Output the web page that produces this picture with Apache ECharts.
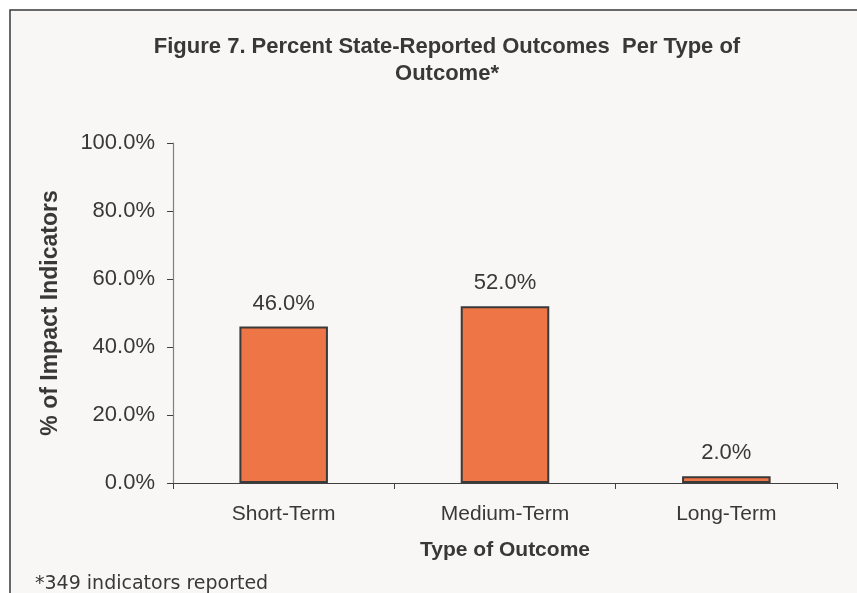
<!DOCTYPE html>
<html>
<head>
<meta charset="utf-8">
<script src="https://cdn.jsdelivr.net/npm/echarts@6/dist/echarts.min.js"></script>
<style>
  html, body { margin: 0; padding: 0; background: #ffffff; }
  #chart { width: 857px; height: 593px; }
</style>
</head>
<body>
<div id="chart"></div>
<script>
// Outcome categories and their share of impact indicators (percent)
const categories = ['Short-Term', 'Medium-Term', 'Long-Term'];
const shares = [46.0, 52.0, 2.0];
const yTicks = [0, 20, 40, 60, 80, 100];

const FONT = '"Liberation Sans", Arial, sans-serif';
const INK = '#383838';

const chart = echarts.init(document.getElementById('chart'), null, { renderer: 'canvas' });

chart.setOption({
  backgroundColor: '#ffffff',
  animation: false,
  graphic: [
    {
      type: 'rect',
      z: -10,
      shape: { x: 10, y: 10, width: 900, height: 700 },
      style: { fill: '#f8f7f5', stroke: '#3a3a3a', lineWidth: 1.5 }
    },
    {
      type: 'text',
      left: 35,
      top: 575,
      style: {
        text: '*349 indicators reported',
        font: '19px "DejaVu Sans", Verdana, sans-serif',
        fill: INK
      }
    }
  ],
  title: {
    text: 'Figure 7. Percent State-Reported Outcomes  Per Type of\nOutcome*',
    left: 442,
    top: 28,
    textAlign: 'center',
    textStyle: {
      fontFamily: FONT,
      fontSize: 22,
      fontWeight: 'bold',
      color: INK,
      lineHeight: 27
    }
  },
  grid: { left: 173, top: 143, right: 20, bottom: 110, containLabel: false },
  xAxis: {
    type: 'category',
    data: categories,
    name: 'Type of Outcome',
    nameLocation: 'middle',
    nameGap: 57,
    nameTextStyle: { fontFamily: FONT, fontSize: 21, fontWeight: 'bold', color: INK, verticalAlign: 'top' },
    axisLine: { lineStyle: { color: '#404040', width: 1.2 } },
    axisTick: { show: true, length: 6, alignWithLabel: false, lineStyle: { color: '#404040' } },
    axisLabel: { fontFamily: FONT, fontSize: 21, color: INK, margin: 21 },
    splitLine: { show: false }
  },
  yAxis: {
    type: 'value',
    min: yTicks[0],
    max: yTicks[yTicks.length - 1],
    interval: yTicks[1] - yTicks[0],
    name: '% of Impact Indicators',
    nameLocation: 'middle',
    nameGap: 111,
    nameRotate: 90,
    nameTextStyle: { fontFamily: FONT, fontSize: 23, fontWeight: 'bold', color: INK },
    axisLine: { show: true, lineStyle: { color: '#808080', width: 1.2 } },
    axisTick: { show: true, length: 6, lineStyle: { color: '#404040' } },
    axisLabel: {
      fontFamily: FONT,
      fontSize: 22,
      color: INK,
      margin: 18,
      formatter: v => v.toFixed(1) + '%'
    },
    splitLine: { show: false }
  },
  series: [
    {
      type: 'bar',
      data: shares,
      barWidth: '40%',
      itemStyle: { color: '#ee7646', borderColor: '#3a3a3a', borderWidth: 2 },
      label: {
        show: true,
        position: 'top',
        distance: 12,
        fontFamily: FONT,
        fontSize: 22,
        color: INK,
        formatter: p => p.value.toFixed(1) + '%'
      }
    }
  ]
});
</script>
</body>
</html>
